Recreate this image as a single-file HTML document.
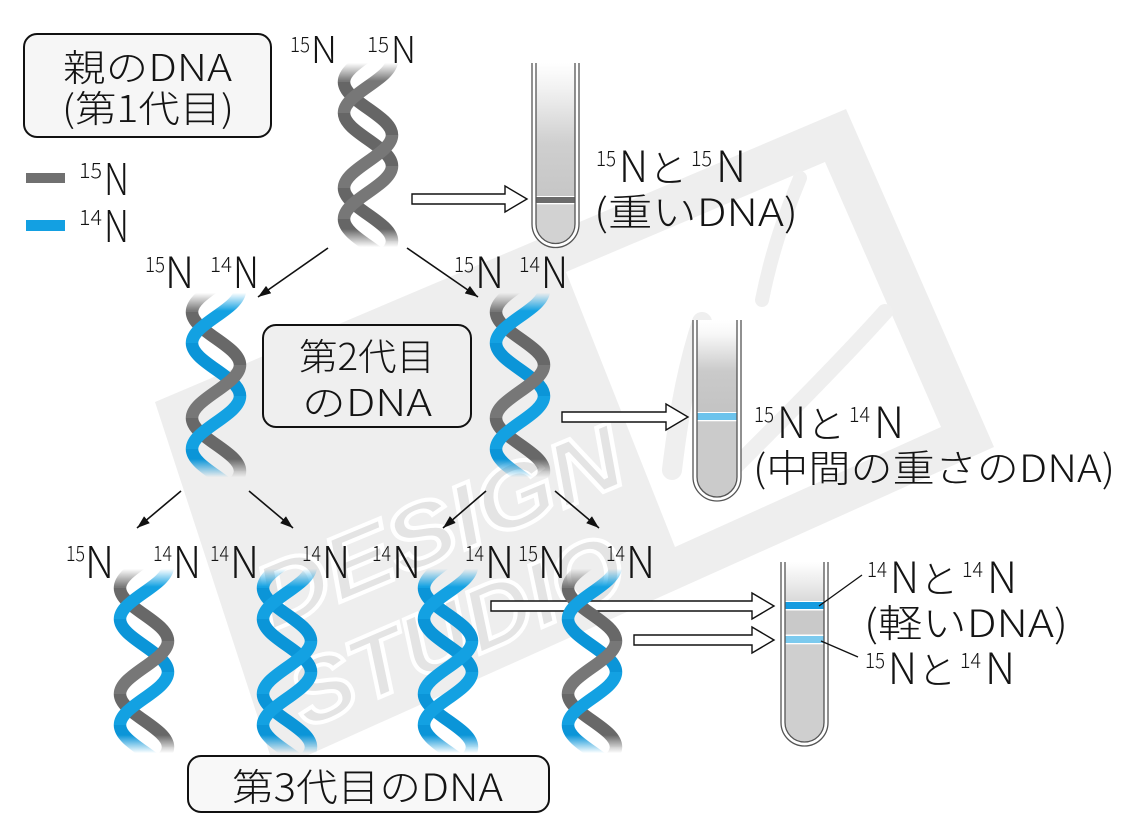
<!DOCTYPE html>
<html><head><meta charset="utf-8">
<style>
html,body{margin:0;padding:0;background:#fff;}
svg{display:block;}
.t{font-family:"Noto Sans CJK JP","Liberation Sans",sans-serif;font-weight:300;fill:#141414;}
</style></head>
<body>
<svg xmlns="http://www.w3.org/2000/svg" width="1134" height="836" viewBox="0 0 1134 836">
<defs>
 <linearGradient id="fadeG" gradientUnits="userSpaceOnUse" x1="0" y1="0" x2="0" y2="190">
  <stop offset="0" stop-color="#000"/>
  <stop offset="0.015" stop-color="#000"/>
  <stop offset="0.11" stop-color="#fff"/>
  <stop offset="0.89" stop-color="#fff"/>
  <stop offset="0.985" stop-color="#000"/>
  <stop offset="1" stop-color="#000"/>
 </linearGradient>
 <mask id="hm" maskUnits="userSpaceOnUse" x="-45" y="-5" width="90" height="200">
  <rect x="-45" y="0" width="90" height="190" fill="url(#fadeG)"/>
 </mask>
 <path id="Ab" fill="none" stroke-width="12.5" d="M-24,22 C-24,41.3 24,55.7 24,75 M-24,128 C-24,147.3 24,161.7 24,181"/>
 <path id="Af" fill="none" stroke-width="12.5" d="M24,-31 C24,-11.7 -24,2.7 -24,22 M24,75 C24,94.3 -24,108.7 -24,128 M24,181 C24,200.3 -24,214.7 -24,234"/>
 <path id="Bb" fill="none" stroke-width="12.5" d="M-24,-53 C-24,-33.7 24,-19.3 24,0 M-24,53 C-24,72.3 24,86.7 24,106 M-24,159 C-24,178.3 24,192.7 24,212"/>
 <path id="Bf" fill="none" stroke-width="12.5" d="M24,0 C24,19.3 -24,33.7 -24,53 M24,106 C24,125.3 -24,139.7 -24,159"/>
 <marker id="ah" markerUnits="userSpaceOnUse" markerWidth="14" markerHeight="10" refX="13" refY="5" orient="auto">
  <path d="M0,0.5 L13,5 L0,9.5 Z" fill="#111"/>
 </marker>
 <linearGradient id="tg1" gradientUnits="userSpaceOnUse" x1="0" y1="63" x2="0" y2="197">
  <stop offset="0" stop-color="#fff"/><stop offset="0.2" stop-color="#f1f1f1"/>
  <stop offset="0.6" stop-color="#cfcfcf"/><stop offset="1" stop-color="#c6c6c6"/>
 </linearGradient>
 <linearGradient id="tg2" gradientUnits="userSpaceOnUse" x1="0" y1="320" x2="0" y2="413">
  <stop offset="0" stop-color="#fff"/><stop offset="0.15" stop-color="#f8f8f8"/>
  <stop offset="0.55" stop-color="#cacaca"/><stop offset="1" stop-color="#c3c3c3"/>
 </linearGradient>
 <linearGradient id="tg3" gradientUnits="userSpaceOnUse" x1="0" y1="562" x2="0" y2="602">
  <stop offset="0" stop-color="#fff"/><stop offset="0.3" stop-color="#f4f4f4"/>
  <stop offset="1" stop-color="#d9d9d9"/>
 </linearGradient>
</defs>

<!-- watermark -->
<polygon points="155,402 846,109 994,447 275,770" fill="#eeeeee"/>
<polygon points="566,272 825,162 941,427 675,547" fill="#ffffff"/>
<g fill="none" stroke="#efefef" stroke-linecap="round">
 <path d="M672,470 C678,420 686,370 702,322" stroke-width="20"/>
 <path d="M732,470 C782,420 842,360 885,312" stroke-width="16"/>
 <path d="M762,300 C772,250 786,212 800,178" stroke-width="14"/>
</g>
<g fill="#e4e4e4" stroke="#ffffff" stroke-width="4" font-family="Liberation Sans, sans-serif" font-weight="bold" font-style="italic">
 <text transform="translate(271,631) rotate(-22.7)" font-size="90" textLength="390" lengthAdjust="spacingAndGlyphs">DESIGN</text>
 <text transform="translate(306,729) rotate(-23.3)" font-size="90" textLength="355" lengthAdjust="spacingAndGlyphs">STUDIO</text>
</g>

<!-- boxes -->
<rect x="24" y="34" width="247" height="103" rx="13" fill="#f6f6f6" stroke="#111" stroke-width="2"/>
<rect x="263" y="325" width="208" height="102" rx="13" fill="#efefef" stroke="#111" stroke-width="2"/>
<rect x="188" y="756" width="361" height="56" rx="13" fill="#f8f8f8" stroke="#111" stroke-width="2"/>

<g class="t">
 <text x="63" y="81" font-size="37" textLength="169" lengthAdjust="spacingAndGlyphs">親のDNA</text>
 <text x="62" y="122" font-size="37" textLength="172" lengthAdjust="spacingAndGlyphs">(第1代目)</text>
 <text x="299" y="370" font-size="37" textLength="136" lengthAdjust="spacingAndGlyphs">第2代目</text>
 <text x="302" y="416" font-size="37" textLength="130" lengthAdjust="spacingAndGlyphs">のDNA</text>
 <text x="232" y="801" font-size="38" textLength="271" lengthAdjust="spacingAndGlyphs">第3代目のDNA</text>
</g>

<!-- legend -->
<rect x="26" y="173" width="39" height="10" fill="#707070"/>
<rect x="26" y="220" width="39" height="11" fill="#13a0e2"/>
<g class="t">
 <text x="79" y="178" font-size="21" textLength="23" lengthAdjust="spacingAndGlyphs">15</text>
 <text x="104" y="195" font-size="44" textLength="25" lengthAdjust="spacingAndGlyphs">N</text>
 <text x="79" y="225" font-size="21" textLength="23" lengthAdjust="spacingAndGlyphs">14</text>
 <text x="104" y="242" font-size="44" textLength="25" lengthAdjust="spacingAndGlyphs">N</text>
</g>

<!-- parent labels -->
<g class="t">
 <text x="290" y="52" font-size="21" textLength="20" lengthAdjust="spacingAndGlyphs">15</text>
 <text x="311" y="63" font-size="37" textLength="26" lengthAdjust="spacingAndGlyphs">N</text>
 <text x="367" y="52" font-size="21" textLength="22" lengthAdjust="spacingAndGlyphs">15</text>
 <text x="391" y="63" font-size="37" textLength="25" lengthAdjust="spacingAndGlyphs">N</text>
</g>
<!-- gen2 labels -->
<g class="t">
 <text x="145" y="272" font-size="21" textLength="20" lengthAdjust="spacingAndGlyphs">15</text>
 <text x="165" y="288" font-size="43" textLength="29" lengthAdjust="spacingAndGlyphs">N</text>
 <text x="210" y="272" font-size="21" textLength="22" lengthAdjust="spacingAndGlyphs">14</text>
 <text x="233" y="288" font-size="43" textLength="26" lengthAdjust="spacingAndGlyphs">N</text>
 <text x="454" y="272" font-size="21" textLength="20" lengthAdjust="spacingAndGlyphs">15</text>
 <text x="475" y="288" font-size="43" textLength="29" lengthAdjust="spacingAndGlyphs">N</text>
 <text x="519" y="272" font-size="21" textLength="21" lengthAdjust="spacingAndGlyphs">14</text>
 <text x="541" y="288" font-size="43" textLength="27" lengthAdjust="spacingAndGlyphs">N</text>
</g>
<!-- gen3 labels -->
<g class="t">
 <text x="66" y="561" font-size="21" textLength="19" lengthAdjust="spacingAndGlyphs">15</text>
 <text x="85" y="578" font-size="44" textLength="29" lengthAdjust="spacingAndGlyphs">N</text>
 <text x="153" y="561" font-size="21" textLength="19" lengthAdjust="spacingAndGlyphs">14</text>
 <text x="173" y="578" font-size="44" textLength="28" lengthAdjust="spacingAndGlyphs">N</text>
 <text x="210" y="561" font-size="21" textLength="19" lengthAdjust="spacingAndGlyphs">14</text>
 <text x="230" y="578" font-size="44" textLength="29" lengthAdjust="spacingAndGlyphs">N</text>
 <text x="302" y="561" font-size="21" textLength="19" lengthAdjust="spacingAndGlyphs">14</text>
 <text x="322" y="578" font-size="44" textLength="28" lengthAdjust="spacingAndGlyphs">N</text>
 <text x="372" y="561" font-size="21" textLength="19" lengthAdjust="spacingAndGlyphs">14</text>
 <text x="392" y="578" font-size="44" textLength="29" lengthAdjust="spacingAndGlyphs">N</text>
 <text x="465" y="561" font-size="21" textLength="19" lengthAdjust="spacingAndGlyphs">14</text>
 <text x="485" y="578" font-size="44" textLength="29" lengthAdjust="spacingAndGlyphs">N</text>
 <text x="518" y="561" font-size="21" textLength="20" lengthAdjust="spacingAndGlyphs">15</text>
 <text x="538" y="578" font-size="44" textLength="28" lengthAdjust="spacingAndGlyphs">N</text>
 <text x="606" y="561" font-size="21" textLength="19" lengthAdjust="spacingAndGlyphs">14</text>
 <text x="626" y="578" font-size="44" textLength="29" lengthAdjust="spacingAndGlyphs">N</text>
</g>

<!-- thin arrows -->
<g stroke="#111" stroke-width="1.6" marker-end="url(#ah)">
 <line x1="328" y1="248" x2="258" y2="297"/>
 <line x1="407" y1="248" x2="478" y2="297"/>
 <line x1="181" y1="491" x2="137" y2="528"/>
 <line x1="249" y1="491" x2="293" y2="528"/>
 <line x1="486" y1="491" x2="443" y2="528"/>
 <line x1="555" y1="491" x2="599" y2="528"/>
</g>

<!-- hollow arrows -->
<g fill="#fff" stroke="#111" stroke-width="1.4" stroke-linejoin="miter">
 <polygon points="412,194 505,194 505,186 527,199 505,212 505,204 412,204"/>
 <polygon points="562,412 666,412 666,404 688,417 666,430 666,422 562,422"/>
 <polygon points="491,601 752,601 752,593 774,606 752,619 752,611 491,611"/>
 <polygon points="634,635 752,635 752,627 774,640 752,653 752,645 634,645"/>
</g>

<!-- helices -->
<g transform="translate(368,60)"><g mask="url(#hm)">
 <use href="#Ab" stroke="#666666"/><use href="#Bb" stroke="#666666"/>
 <use href="#Af" stroke="#777777"/><use href="#Bf" stroke="#777777"/>
</g></g>
<g transform="translate(216,290)"><g mask="url(#hm)">
 <use href="#Ab" stroke="#686868"/><use href="#Bb" stroke="#0b95d8"/>
 <use href="#Af" stroke="#777777"/><use href="#Bf" stroke="#13a1e2"/>
</g></g>
<g transform="translate(520,290)"><g mask="url(#hm)">
 <use href="#Ab" stroke="#686868"/><use href="#Bb" stroke="#0b95d8"/>
 <use href="#Af" stroke="#777777"/><use href="#Bf" stroke="#13a1e2"/>
</g></g>
<g transform="translate(144,566)"><g mask="url(#hm)">
 <use href="#Ab" stroke="#686868"/><use href="#Bb" stroke="#0b95d8"/>
 <use href="#Af" stroke="#777777"/><use href="#Bf" stroke="#13a1e2"/>
</g></g>
<g transform="translate(287,566)"><g mask="url(#hm)">
 <use href="#Ab" stroke="#0b95d8"/><use href="#Bb" stroke="#0b95d8"/>
 <use href="#Af" stroke="#13a1e2"/><use href="#Bf" stroke="#13a1e2"/>
</g></g>
<g transform="translate(448,566)"><g mask="url(#hm)">
 <use href="#Ab" stroke="#0b95d8"/><use href="#Bb" stroke="#0b95d8"/>
 <use href="#Af" stroke="#13a1e2"/><use href="#Bf" stroke="#13a1e2"/>
</g></g>
<g transform="translate(592,566)"><g mask="url(#hm)">
 <use href="#Ab" stroke="#686868"/><use href="#Bb" stroke="#0b95d8"/>
 <use href="#Af" stroke="#777777"/><use href="#Bf" stroke="#13a1e2"/>
</g></g>

<!-- tube 1 -->
<path d="M532,63 L532,224 A23.5,23.5 0 0 0 579,224 L579,63" fill="#fff" stroke="#555" stroke-width="1.3"/>
<path d="M536,63 L536,224 A19.5,19.5 0 0 0 575,224 L575,63 Z" fill="url(#tg1)" stroke="none"/>
<path d="M536,204 L536,224 A19.5,19.5 0 0 0 575,224 L575,204 Z" fill="#d2d2d2"/>
<rect x="536" y="196" width="39" height="1.2" fill="#fff"/>
<rect x="536" y="197" width="39" height="6" fill="#6b6b6b"/>
<rect x="536" y="203" width="39" height="1.3" fill="#fff"/>
<path d="M536,63 L536,224 A19.5,19.5 0 0 0 575,224 L575,63" fill="none" stroke="#555" stroke-width="1.3"/>

<!-- tube 2 -->
<path d="M693,320 L693,477 A24,24 0 0 0 741,477 L741,320" fill="#fff" stroke="#555" stroke-width="1.3"/>
<path d="M697,320 L697,477 A20,20 0 0 0 737,477 L737,320 Z" fill="url(#tg2)"/>
<path d="M697,421 L697,477 A20,20 0 0 0 737,477 L737,421 Z" fill="#cbcbcb"/>
<rect x="697" y="412" width="40" height="1.2" fill="#fff"/>
<rect x="697" y="413" width="40" height="7" fill="#6cc3ec"/>
<rect x="697" y="420" width="40" height="1.3" fill="#fff"/>
<path d="M697,320 L697,477 A20,20 0 0 0 737,477 L737,320" fill="none" stroke="#555" stroke-width="1.3"/>

<!-- tube 3 -->
<path d="M781,562 L781,722.5 A23.5,23.5 0 0 0 828,722.5 L828,562" fill="#fff" stroke="#555" stroke-width="1.3"/>
<path d="M785,562 L785,722.5 A19.5,19.5 0 0 0 824,722.5 L824,562 Z" fill="url(#tg3)"/>
<rect x="785" y="610" width="39" height="26" fill="#c9c9c9"/>
<path d="M785,644 L785,722.5 A19.5,19.5 0 0 0 824,722.5 L824,644 Z" fill="#cfcfcf"/>
<rect x="785" y="601" width="39" height="1.2" fill="#fff"/>
<rect x="785" y="602" width="39" height="7" fill="#159be0"/>
<rect x="785" y="609" width="39" height="1.5" fill="#fff"/>
<rect x="785" y="634.5" width="39" height="1.5" fill="#fff"/>
<rect x="785" y="636" width="39" height="7" fill="#7ccaee"/>
<rect x="785" y="643" width="39" height="1.3" fill="#fff"/>
<path d="M785,562 L785,722.5 A19.5,19.5 0 0 0 824,722.5 L824,562" fill="none" stroke="#555" stroke-width="1.3"/>

<!-- leader lines -->
<g stroke="#111" stroke-width="1.3">
 <line x1="862" y1="575" x2="819" y2="606"/>
 <line x1="858" y1="657" x2="821" y2="641"/>
</g>

<!-- tube labels -->
<g class="t">
 <!-- tube 1 -->
 <text x="596" y="166" font-size="21" textLength="20" lengthAdjust="spacingAndGlyphs">15</text>
 <text x="619" y="182" font-size="43" textLength="29" lengthAdjust="spacingAndGlyphs">N</text>
 <text x="649" y="182" font-size="38">と</text>
 <text x="691" y="166" font-size="21" textLength="21" lengthAdjust="spacingAndGlyphs">15</text>
 <text x="716" y="182" font-size="43" textLength="30" lengthAdjust="spacingAndGlyphs">N</text>
 <text x="594" y="226" font-size="38" textLength="204" lengthAdjust="spacingAndGlyphs">(重いDNA)</text>
 <!-- tube 2 -->
 <text x="754" y="422" font-size="21" textLength="20" lengthAdjust="spacingAndGlyphs">15</text>
 <text x="777" y="438" font-size="43" textLength="29" lengthAdjust="spacingAndGlyphs">N</text>
 <text x="807" y="438" font-size="38">と</text>
 <text x="849" y="422" font-size="21" textLength="21" lengthAdjust="spacingAndGlyphs">14</text>
 <text x="874" y="438" font-size="43" textLength="30" lengthAdjust="spacingAndGlyphs">N</text>
 <text x="753" y="482" font-size="38" textLength="362" lengthAdjust="spacingAndGlyphs">(中間の重さのDNA)</text>
 <!-- tube 3 -->
 <text x="867" y="577" font-size="21" textLength="20" lengthAdjust="spacingAndGlyphs">14</text>
 <text x="890" y="593" font-size="43" textLength="29" lengthAdjust="spacingAndGlyphs">N</text>
 <text x="920" y="593" font-size="38">と</text>
 <text x="962" y="577" font-size="21" textLength="21" lengthAdjust="spacingAndGlyphs">14</text>
 <text x="987" y="593" font-size="43" textLength="30" lengthAdjust="spacingAndGlyphs">N</text>
 <text x="864" y="637" font-size="38" textLength="204" lengthAdjust="spacingAndGlyphs">(軽いDNA)</text>
 <text x="865" y="668" font-size="21" textLength="20" lengthAdjust="spacingAndGlyphs">15</text>
 <text x="888" y="684" font-size="43" textLength="29" lengthAdjust="spacingAndGlyphs">N</text>
 <text x="918" y="684" font-size="38">と</text>
 <text x="960" y="668" font-size="21" textLength="21" lengthAdjust="spacingAndGlyphs">14</text>
 <text x="985" y="684" font-size="43" textLength="30" lengthAdjust="spacingAndGlyphs">N</text>
</g>
</svg>
</body></html>
